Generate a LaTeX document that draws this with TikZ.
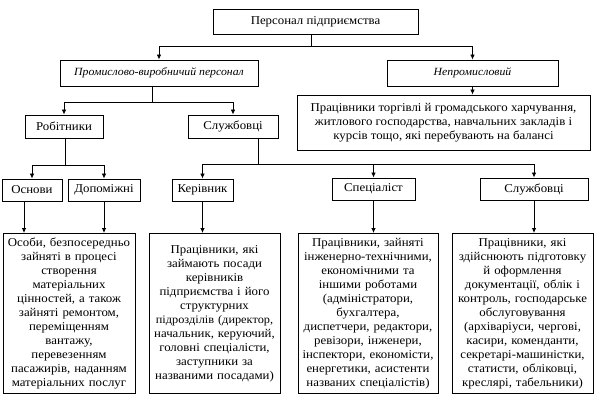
\documentclass[tikz,border=0pt]{standalone}
\usepackage{fontspec}
\setmainfont[FakeStretch=1.07]{Liberation Serif}
\usetikzlibrary{arrows.meta}

\tikzset{
  box/.style={draw, line width=0.9pt, inner sep=1pt, align=center},
  branch/.style={box, font=\fontsize{11}{13}\selectfont\itshape},
  descbox/.style={box, anchor=north, minimum height=160pt, text width=#1, inner sep=1pt},
  arrow/.style={line width=0.8pt, -{Latex[length=5pt,width=4.5pt]}},
  link/.style={line width=0.8pt}
}

\begin{document}
\begin{tikzpicture}[x=1pt, y=-1pt, font=\fontsize{12}{14}\selectfont]
    \useasboundingbox (0,0) rectangle (600,400);

    % Top levels
    \node[box, minimum width=205pt, minimum height=25pt] (staff) at (315.5,21.5) {Персонал підприємства};
    \node[branch, minimum width=198pt, minimum height=26pt] (industrial) at (159,73) {Промислово-виробничий персонал};
    \node[branch, minimum width=171pt, minimum height=26pt] (nonindustrial) at (472.5,73) {Непромисловий};
    \node[box, minimum width=293pt, minimum height=55pt] (trade) at (443.5,122.5)
        {Працівники торгівлі й громадського харчування,\\ житлового господарства, навчальних закладів і\\ курсів тощо, які перебувають на балансі};

    % Second level
    \node[box, minimum width=78pt, minimum height=23pt] (workers) at (64,126.5) {Робітники};
    \node[box, minimum width=90pt, minimum height=23pt] (employees) at (233,126.5) {Службовці};

    % Third level
    \node[box, minimum width=60pt, minimum height=22pt] (main) at (32,190) {Основи};
    \node[box, minimum width=72pt, minimum height=22pt] (aux) at (104,190) {Допоміжні};
    \node[box, minimum width=61pt, minimum height=22pt] (heads) at (202.5,190) {Керівник};
    \node[box, minimum width=83pt, minimum height=22pt] (expert) at (373.5,189) {Спеціаліст};
    \node[box, minimum width=108pt, minimum height=22pt] (clerks) at (534,189) {Службовці};

    % Descriptions
    \node[descbox=130pt] (dworkers) at (69,233)
        {Особи, безпосередньо\\ зайняті в процесі\\ створення\\ матеріальних\\ цінностей, а також\\ зайняті ремонтом,\\ переміщенням\\ вантажу,\\ перевезенням\\ пасажирів, наданням\\ матеріальних послуг};
    \node[descbox=129pt] (dheads) at (214.5,233)
        {Працівники, які\\ займають посади\\ керівників\\ підприємства і його\\ структурних\\ {\fontsize{11.5}{14}\selectfont підрозділів (директор,}\\ начальник, керуючий,\\ головні спеціалісти,\\ заступники за\\ названими посадами)};
    \node[descbox=138pt] (dexpert) at (368,233)
        {Працівники, зайняті\\ інженерно-технічними,\\ економічними та\\ іншими роботами\\ (адміністратори,\\ бухгалтера,\\ диспетчери, редактори,\\ ревізори, інженери,\\ інспектори, економісти,\\ енергетики, асистенти\\ названих спеціалістів)};
    \node[descbox=139pt] (dclerks) at (522.5,233)
        {Працівники, які\\ здійснюють підготовку\\ й оформлення\\ документації, облік і\\ контроль, господарське\\ обслуговування\\ (архіваріуси, чергові,\\ касири, коменданти,\\ секретарі-машиністки,\\ статисти, обліковці,\\ креслярі, табельники)};

    % Junctions
    \coordinate (j1) at (311,46);
    \coordinate (j2) at (152,102);
    \coordinate (j3) at (65,165);
    \coordinate (j4) at (258,164);

    % Connectors
    \draw[link] (staff.south -| j1) -- (j1);
    \draw[arrow] (j1) -| (industrial.north);
    \draw[arrow] (j1) -| (nonindustrial.north);
    \draw[arrow] (nonindustrial.south) -- (nonindustrial.south |- trade.north);

    \draw[link] (industrial.south -| j2) -- (j2);
    \draw[arrow] (j2) -| (workers.north);
    \draw[arrow] (j2) -| (employees.north);

    \draw[link] (workers.south -| j3) -- (j3);
    \draw[arrow] (j3) -| (main.north);
    \draw[arrow] (j3) -| (aux.north);

    \draw[link] (employees.south -| j4) -- (j4);
    \draw[arrow] (j4) -| (heads.north);
    \draw[arrow] (j4) -| (expert.north);
    \draw[arrow] (j4) -| (clerks.north);

    \draw[arrow] ([xshift=-8pt]main.south) -- ([xshift=-8pt]main.south |- dworkers.north);
    \draw[arrow] (aux.south) -- (aux.south |- dworkers.north);
    \draw[arrow] (heads.south) -- (heads.south |- dheads.north);
    \draw[arrow] (expert.south) -- (expert.south |- dexpert.north);
    \draw[arrow] (clerks.south) -- (clerks.south |- dclerks.north);
\end{tikzpicture}
\end{document}
